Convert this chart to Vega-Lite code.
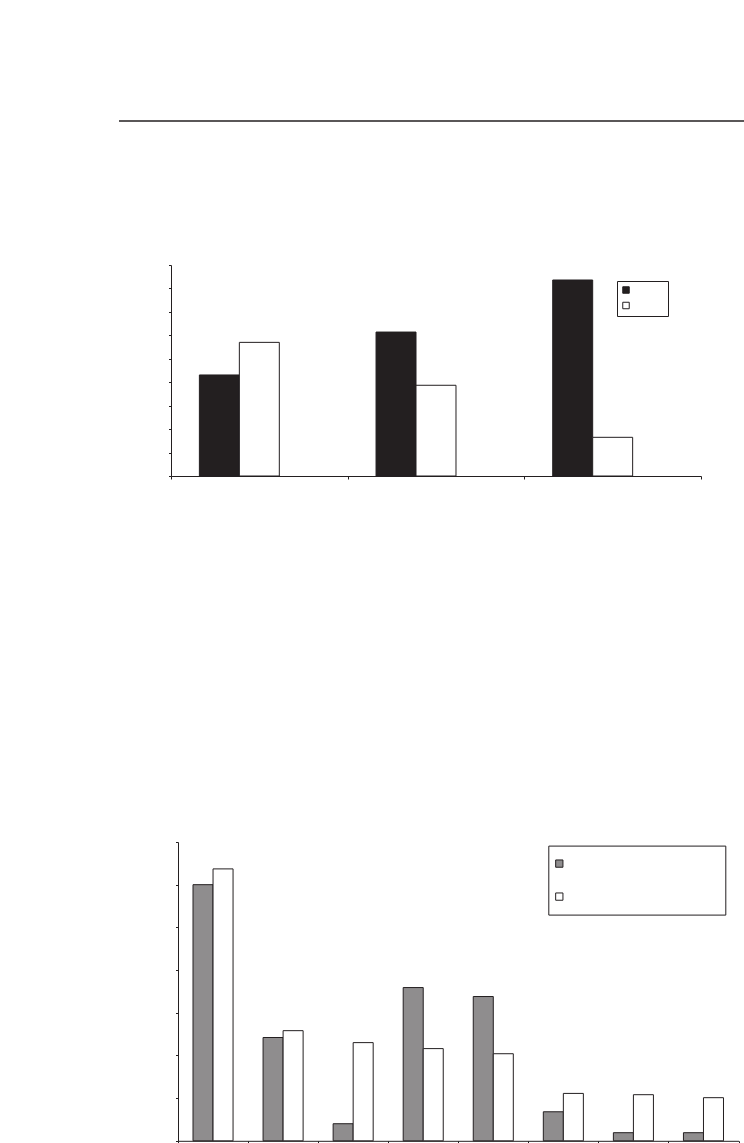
{
  "$schema": "https://vega.github.io/schema/vega-lite/v6.json",
  "padding": {"left": 118, "top": 120, "right": 0, "bottom": 0},
  "datasets": {
    "top": [
      {"cat": "1", "series": "S1", "value": 4.31},
      {"cat": "1", "series": "S2", "value": 5.70},
      {"cat": "2", "series": "S1", "value": 6.14},
      {"cat": "2", "series": "S2", "value": 3.87},
      {"cat": "3", "series": "S1", "value": 8.36},
      {"cat": "3", "series": "S2", "value": 1.65}
    ],
    "bottom": [
      {"cat": "1", "series": "S1", "value": 6.00},
      {"cat": "1", "series": "S2", "value": 6.37},
      {"cat": "2", "series": "S1", "value": 2.42},
      {"cat": "2", "series": "S2", "value": 2.58},
      {"cat": "3", "series": "S1", "value": 0.40},
      {"cat": "3", "series": "S2", "value": 2.30},
      {"cat": "4", "series": "S1", "value": 3.59},
      {"cat": "4", "series": "S2", "value": 2.16},
      {"cat": "5", "series": "S1", "value": 3.38},
      {"cat": "5", "series": "S2", "value": 2.04},
      {"cat": "6", "series": "S1", "value": 0.68},
      {"cat": "6", "series": "S2", "value": 1.11},
      {"cat": "7", "series": "S1", "value": 0.19},
      {"cat": "7", "series": "S2", "value": 1.08},
      {"cat": "8", "series": "S1", "value": 0.19},
      {"cat": "8", "series": "S2", "value": 1.01}
    ]
  },
  "spacing": 0,
  "resolve": {"scale": {"fill": "independent", "xOffset": "independent", "x": "independent", "y": "independent"}, "legend": {"fill": "independent"}},
  "vconcat": [
    {
      "width": 626,
      "height": 142.6,
      "data": {"values": [{"k": 1}]},
      "mark": {"type": "rule", "stroke": "#231f20", "strokeWidth": 1.3},
      "encoding": {
        "y": {"datum": 1, "type": "quantitative", "scale": {"domain": [0, 1]}, "axis": null}
      }
    },
    {
      "bounds": "flush",
      "spacing": 0,
      "resolve": {"scale": {"fill": "independent", "xOffset": "independent"}, "legend": {"fill": "independent"}},
      "hconcat": [
        {
          "width": 52,
          "height": 575.4,
          "data": {"values": []},
          "mark": "point"
        },
        {
          "width": 530,
          "height": 211,
          "resolve": {"scale": {"x": "independent"}, "axis": {"x": "independent"}},
          "layer": [
            {
              "data": {"name": "top"},
              "mark": {"type": "bar", "stroke": "#231f20", "strokeWidth": 1},
              "encoding": {
                "x": {"field": "cat", "type": "nominal", "scale": {"paddingInner": 0, "paddingOuter": 0}, "axis": null},
                "xOffset": {"field": "series", "type": "nominal", "scale": {"domain": ["S1", "S2", "pad"], "paddingInner": 0, "paddingOuter": 0.71}},
                "y": {"field": "value", "type": "quantitative", "scale": {"domain": [0, 9], "nice": false}, "axis": {"values": [0, 1, 2, 3, 4, 5, 6, 7, 8, 9], "labels": false, "tickSize": 2.5, "title": null}},
                "fill": {
                  "field": "series", "type": "nominal",
                  "scale": {"domain": ["S1", "S2"], "range": ["#231f20", "#ffffff"]},
                  "legend": {
                    "orient": "none", "legendX": 446, "legendY": 16, "title": null,
                    "labelExpr": "''", "padding": 5, "symbolSize": 42, "symbolType": "square",
                    "labelOffset": 33, "rowPadding": 3.5, "labelFontSize": 6,
                    "strokeColor": "#231f20", "fillColor": "#ffffff",
                    "symbolStrokeColor": "#231f20", "symbolStrokeWidth": 1
                  }
                }
              }
            },
            {
              "data": {"values": []},
              "mark": "tick",
              "encoding": {
                "x": {"field": "v", "type": "quantitative", "scale": {"domain": [0, 3], "nice": false}, "axis": {"values": [0, 1, 2, 3], "labels": false, "tickSize": 3, "title": null, "orient": "bottom"}}
              }
            }
          ]
        }
      ]
    },
    {
      "bounds": "flush",
      "spacing": 0,
      "resolve": {"scale": {"fill": "independent", "xOffset": "independent"}, "legend": {"fill": "independent"}},
      "hconcat": [
        {
          "width": 59,
          "height": 298.8,
          "data": {"values": []},
          "mark": "point"
        },
        {
          "width": 560.5,
          "height": 298.8,
          "resolve": {"scale": {"x": "independent"}, "axis": {"x": "independent"}},
          "layer": [
            {
              "data": {"name": "bottom"},
              "mark": {"type": "bar", "stroke": "#231f20", "strokeWidth": 1},
              "encoding": {
                "x": {"field": "cat", "type": "nominal", "scale": {"paddingInner": 0, "paddingOuter": 0}, "axis": null},
                "xOffset": {"field": "series", "type": "nominal", "scale": {"domain": ["S1", "S2"], "paddingInner": 0, "paddingOuter": 0.75}},
                "y": {"field": "value", "type": "quantitative", "scale": {"domain": [0, 7], "nice": false}, "axis": {"values": [0, 1, 2, 3, 4, 5, 6, 7], "labels": false, "tickSize": 2.5, "title": null}},
                "fill": {
                  "field": "series", "type": "nominal",
                  "scale": {"domain": ["S1", "S2"], "range": ["#8f8d8e", "#ffffff"]},
                  "legend": {
                    "orient": "none", "legendX": 370.3, "legendY": 3.6, "title": null,
                    "labelExpr": "''", "padding": 10, "symbolSize": 53, "symbolType": "square",
                    "symbolOffset": -7, "labelOffset": 148, "rowPadding": 17, "labelFontSize": 16,
                    "strokeColor": "#231f20", "fillColor": "#ffffff",
                    "symbolStrokeColor": "#231f20", "symbolStrokeWidth": 1
                  }
                }
              }
            },
            {
              "data": {"values": []},
              "mark": "tick",
              "encoding": {
                "x": {"field": "v", "type": "quantitative", "scale": {"domain": [0, 8], "nice": false}, "axis": {"values": [0, 1, 2, 3, 4, 5, 6, 7, 8], "labels": false, "tickSize": 3, "title": null, "orient": "bottom"}}
              }
            }
          ]
        }
      ]
    }
  ],
  "config": {
    "view": {"stroke": null},
    "axis": {"domainColor": "#231f20", "tickColor": "#231f20", "domainWidth": 1, "tickWidth": 1, "grid": false, "labels": false},
    "legend": {"strokeWidth": 1}
  }
}
